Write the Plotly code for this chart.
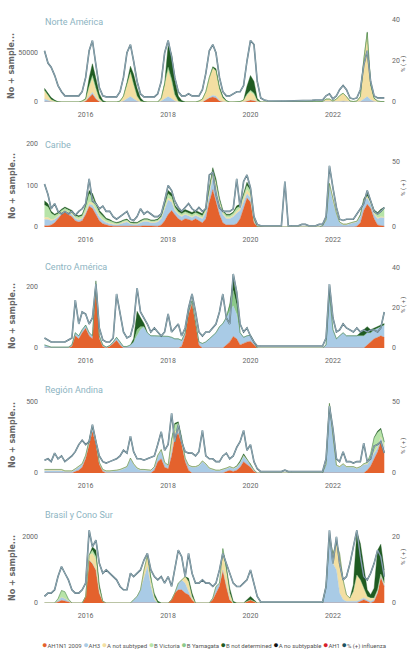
import pandas as pd
import plotly.graph_objects as go
from plotly.subplots import make_subplots

# ---------------- DATA (monthly, Jan 2015 .. Apr 2023) ----------------
months = pd.date_range("2015-01-01", periods=100, freq="MS")

regions = ["Norte América", "Caribe", "Centro América", "Región Andina", "Brasil y Cono Sur"]
year_ticks = ["2016-01-01", "2018-01-01", "2020-01-01", "2022-01-01"]
year_labels = ["2016", "2018", "2020", "2022"]
left_ticks = [[0, 50000], [0, 100, 200], [0, 200], [0, 500], [0, 2000]]
right_ticks = [[0, 20, 40], [0, 50], [0, 20, 40], [0, 50], [0, 20]]

subtype_names = ["AH1N1 2009", "AH3", "A not subtyped", "B Victoria", "B Yamagata",
                 "B not determined", "A no subtypable", "AH1", "% (+) influenza"]

# Norte América
na_pct = [25,19,17,13,8,5,3,3,3,3,3,5,
          12,25,30,18,7,3,2.5,2.5,2.5,2.5,5,12,
          24,28,20,10,4,2.5,2.5,2.5,2.5,4,10,24,
          30,22,12,5,3,3,4,3,3,3,6,14,
          25,28,24,12,5,3,3,4,5,5,8,20,
          30,28,10,2,1,0.6,0.5,0.5,0.5,0.5,0.5,0.5,
          0.5,0.5,0.5,0.5,0.5,0.6,0.8,1,1,1,3,4,
          1.5,3,6,8,6,2,1.5,2,6,18,25,10,
          3,2,2,2]
na_ah1n1 = [0,0,0,0,0,0,0,0,0,0,0,0,
            1000,5000,8000,3000,500,0,0,0,0,0,0,0,
            0,500,300,0,0,0,0,0,0,0,0,0,
            500,500,0,0,0,0,0,0,0,0,0,2000,
            4000,5000,4000,1000,300,0,0,0,0,0,0,1000,
            2000,1500,200,0,0,0,0,0,0,0,0,0,
            0,0,0,0,0,0,0,0,0,0,0,0,
            0,0,0,0,0,0,0,0,0,0,500,200,
            0,0,0,0]
na_ah3 = [3000,1500,500,0,0,0,0,0,0,0,0,0,
          0,500,2000,1000,0,0,0,0,0,0,0,1000,
          3000,5000,3000,1000,0,0,0,0,0,0,1000,3000,
          5000,3000,1000,0,0,0,0,0,0,0,0,500,
          1000,2000,2000,500,0,0,0,0,0,0,0,0,
          0,0,0,0,0,0,0,0,0,0,0,0,
          0,0,0,0,0,0,0,0,0,0,0,0,
          0,0,500,1000,500,0,0,0,500,3000,5000,2000,
          500,0,0,0]
na_anot = [9000,5000,2000,1000,0,0,0,0,0,0,0,1000,
           2000,10000,14000,8000,2000,0,0,0,0,0,1000,5000,
           15000,25000,15000,5000,1000,0,0,0,0,0,3000,15000,
           28000,18000,6000,1000,0,0,0,0,0,1000,3000,8000,
           20000,28000,26000,12000,4000,1000,0,0,0,500,2000,6000,
           8000,6000,1000,0,0,0,0,0,0,0,0,0,
           0,0,0,0,0,0,0,0,0,500,3000,3000,
           1000,3000,6000,8000,5000,1000,500,1000,5000,40000,65000,15000,
           3000,1000,500,500]
na_bvic = [0,0,0,0,0,0,0,0,0,0,0,0,
           0,1000,3000,2000,1000,0,0,0,0,0,0,0,
           0,0,0,0,0,0,0,0,0,0,0,0,
           0,0,0,0,0,0,0,0,0,0,0,0,
           0,0,0,0,0,0,0,0,0,0,0,1000,
           2000,1500,300,0,0,0,0,0,0,0,0,0,
           0,0,0,0,0,0,0,0,0,0,0,0,
           0,0,0,0,0,0,0,0,0,0,0,0,
           0,0,0,0]
na_byam = [0,0,0,0,0,0,0,0,0,0,0,0,
           0,0,0,0,0,0,0,0,0,0,0,0,
           0,0,0,0,0,0,0,0,0,0,0,0,
           2000,2000,1000,0,0,0,0,0,0,0,0,0,
           0,0,0,0,0,0,0,0,0,0,0,0,
           0,0,0,0,0,0,0,0,0,0,0,0,
           0,0,0,0,0,0,0,0,0,0,0,0,
           0,0,0,0,0,0,0,0,0,0,0,0,
           0,0,0,0]
na_bnd = [2000,3000,2000,1000,300,0,0,0,0,0,0,0,
          500,8000,12000,10000,5000,1500,0,0,0,0,0,0,
          2000,6000,10000,8000,3000,500,0,0,0,0,0,500,
          22000,25000,14000,5000,1500,0,0,0,0,0,0,0,
          0,1000,2000,2000,1500,500,0,0,0,0,0,8000,
          15000,12000,2000,0,0,0,0,0,0,0,0,0,
          0,0,0,0,0,0,0,0,0,0,0,0,
          0,0,0,0,0,0,0,0,0,0,1000,1000,
          500,0,0,0]

# Caribe
cb_pct = [33,25,14,18,12,10,12,10,12,9,12,14,
          18,37,20,18,14,16,12,12,8,6,8,10,
          12,6,5,8,14,10,12,10,8,8,10,20,
          32,28,20,15,12,15,18,14,12,15,12,14,
          40,42,25,15,12,12,12,14,37,15,35,40,
          30,8,2,1,1,1,1,1,1,1,35,1,
          1,1,1,2,2,1,1,1,2,2,8,47,
          30,15,6,5,6,6,6,10,14,18,28,20,
          12,10,12,15]
cb_ah1n1 = [3,3,5,10,20,30,35,30,25,15,12,15,
            30,50,45,30,15,8,5,3,2,2,2,2,
            2,2,1,1,2,3,3,2,2,2,5,15,
            30,40,30,20,15,20,18,15,20,15,10,20,
            60,90,60,30,10,5,5,5,8,20,45,70,
            60,10,1,0,0,0,0,0,0,0,0,0,
            0,0,0,0,0,0,0,0,0,0,0,0,
            0,0,0,0,0,0,0,2,10,40,55,45,
            20,5,3,2]
cb_ah3 = [15,15,10,8,5,3,3,3,5,5,5,5,
          5,5,8,10,10,8,6,5,5,3,5,8,
          10,5,5,5,8,10,10,8,8,10,15,30,
          35,20,10,10,10,10,8,8,8,10,10,15,
          15,30,35,25,20,15,15,20,25,20,15,10,
          10,5,0,0,0,0,0,0,0,0,0,0,
          0,0,0,0,0,0,0,0,0,3,15,100,
          60,30,10,5,5,8,10,10,15,20,15,10,
          10,15,20,20]
cb_anot = [5,5,3,2,2,2,2,2,2,2,2,2,
           3,5,5,3,2,2,2,2,1,1,1,2,
           2,1,1,1,1,2,2,2,2,2,2,3,
           5,5,3,2,2,2,2,2,2,2,2,3,
           10,10,8,5,3,3,3,3,5,5,8,10,
           8,2,0,0,0,0,0,0,0,0,0,0,
           0,0,0,0,0,0,0,0,0,0,2,5,
           5,3,2,2,2,2,2,2,3,5,5,5,
           3,2,2,2]
cb_bvic = [30,25,15,8,5,5,5,5,5,5,5,5,
           10,20,15,10,8,8,5,5,3,3,3,3,
           3,2,2,2,3,3,3,3,3,3,3,5,
           10,8,5,5,5,5,5,5,5,5,5,5,
           5,5,5,5,5,5,5,5,8,5,8,10,
           10,2,0,0,0,0,0,0,0,0,0,0,
           0,0,0,0,0,0,0,0,0,0,0,0,
           0,0,0,0,0,0,0,0,0,0,0,0,
           5,10,15,20]
cb_bnd = [10,8,5,3,3,3,3,3,3,3,3,3,
          5,8,8,5,5,5,3,3,2,2,2,2,
          2,2,2,2,2,2,2,2,2,2,3,5,
          8,8,5,5,5,5,5,5,5,5,5,5,
          5,8,8,5,3,3,3,3,5,5,5,8,
          5,1,0,0,0,0,0,0,0,0,0,0,
          0,0,0,0,0,0,0,0,0,0,0,0,
          0,0,0,0,0,0,0,0,2,3,5,3,
          3,3,3,3]

# Centro América
ca_pct = [5,4,3,3,3,3,3,4,5,24,12,18,
          17,12,15,32,10,4,3,3,5,27,18,8,
          5,6,12,30,18,15,12,8,10,8,6,8,
          17,8,10,12,6,10,20,27,18,8,6,8,
          8,10,12,18,27,15,12,37,28,12,8,10,
          6,3,1,1,1,1,1,1,1,1,1,1,
          1,1,1,1,1,1,1,1,1,1,5,32,
          15,8,9,12,10,9,8,10,8,9,8,9,
          9,8,10,18]
ca_ah1n1 = [0,0,0,0,0,0,0,0,5,40,30,50,
            65,40,30,200,30,5,0,5,15,25,10,0,
            0,0,0,0,0,0,0,0,0,0,0,0,
            0,0,0,0,5,40,110,145,80,10,0,0,
            0,0,0,0,0,10,20,38,30,10,15,20,
            22,10,0,0,0,0,0,0,0,0,0,0,
            0,0,0,0,0,0,0,0,0,0,0,0,
            0,0,0,0,0,0,0,0,0,0,10,20,
            30,35,40,35]
ca_ah3 = [10,5,3,3,3,3,3,3,5,10,10,10,
          10,10,10,10,10,5,3,3,5,10,10,5,
          5,10,20,40,60,70,50,40,40,40,38,38,
          38,35,30,30,20,10,10,10,10,10,15,20,
          30,40,50,70,80,90,100,100,80,40,20,20,
          20,10,0,0,0,0,0,0,0,0,0,0,
          0,0,0,0,0,0,0,0,0,0,10,178,
          60,30,40,50,40,40,40,40,40,40,40,30,
          30,30,30,40]
ca_byam = [0,0,0,0,0,0,0,0,0,0,0,0,
           0,0,0,0,0,0,0,0,0,0,0,0,
           0,0,0,20,10,0,0,0,0,0,0,0,
           0,0,0,0,0,0,0,0,0,0,0,0,
           0,0,0,0,0,0,20,50,30,0,0,0,
           0,0,0,0,0,0,0,0,0,0,0,0,
           0,0,0,0,0,0,0,0,0,0,0,0,
           0,0,0,0,0,0,0,0,0,0,0,0,
           0,0,0,0]
ca_bnd = [0,0,0,0,0,0,0,0,0,0,0,0,
          0,0,0,10,0,0,0,0,0,0,0,0,
          0,0,10,60,30,10,0,0,0,0,0,0,
          0,0,0,0,0,0,0,0,0,0,0,0,
          0,0,0,0,0,0,0,40,20,0,0,0,
          0,0,0,0,0,0,0,0,0,0,0,0,
          0,0,0,0,0,0,0,0,0,0,0,0,
          0,0,0,0,0,0,0,0,10,20,20,10,
          5,5,5,5]

# Región Andina
an_pct = [9,10,8,14,10,12,8,10,12,15,20,23,
          20,22,34,22,12,8,7,8,9,10,12,16,
          14,26,15,10,10,9,10,11,12,20,29,16,
          20,42,22,34,22,15,14,14,12,15,30,12,
          10,10,8,8,12,14,10,12,18,22,30,16,
          20,8,3,1,1,1,1,1,1,1,2,1,
          1,1,1,1,1,1,1,1,1,1,10,47,
          31,10,8,15,8,8,7,8,8,21,8,10,
          19,20,22,14]
an_ah1n1 = [0,0,0,0,0,0,0,0,0,10,20,40,
            100,200,290,200,60,10,0,0,0,0,0,0,
            0,0,0,0,0,0,0,0,20,80,100,40,
            30,120,250,280,200,80,20,0,0,0,0,0,
            0,0,0,0,0,10,20,10,20,40,80,60,
            40,10,0,0,0,0,0,0,0,0,0,0,
            0,0,0,0,0,0,0,0,0,0,0,0,
            0,0,0,0,0,0,0,0,0,0,20,50,
            100,150,220,150]
an_ah3 = [15,15,15,20,15,15,10,10,10,15,20,20,
          20,20,20,15,10,10,10,10,10,15,20,30,
          40,100,60,30,20,20,15,15,20,40,60,30,
          20,30,20,20,20,20,30,40,40,50,80,60,
          30,20,15,15,20,20,20,20,20,30,40,30,
          20,10,0,0,0,0,0,0,0,0,0,0,
          0,0,0,0,0,0,0,0,0,0,60,480,
          250,50,40,60,40,40,40,30,40,60,40,50,
          40,30,30,30]
an_anot = [10,10,10,10,10,10,5,5,5,5,5,5,
           5,10,10,5,5,5,5,5,5,5,5,5,
           5,5,5,5,5,5,5,5,5,5,5,5,
           5,60,20,10,5,5,5,5,5,5,5,5,
           5,5,5,5,5,5,5,5,5,5,5,5,
           5,2,0,0,0,0,0,0,0,0,0,0,
           0,0,0,0,0,0,0,0,0,0,2,10,
           10,5,5,5,5,5,5,5,5,5,5,5,
           5,5,5,5]
an_bvic = [0,0,0,0,0,0,0,0,0,0,0,0,
           0,0,0,0,0,0,0,0,0,0,0,0,
           0,0,0,0,0,0,0,0,0,0,0,0,
           0,20,50,40,20,0,0,0,0,0,0,0,
           0,0,0,0,0,0,0,0,0,0,0,0,
           0,0,0,0,0,0,0,0,0,0,0,0,
           0,0,0,0,0,0,0,0,0,0,0,0,
           0,0,0,0,0,0,0,0,0,0,10,30,
           100,100,50,30]
an_bnd = [0,0,0,0,0,0,0,0,0,0,0,0,
          0,0,10,5,0,0,0,0,0,0,0,0,
          0,0,0,0,0,0,0,0,0,0,0,0,
          0,10,10,10,5,0,0,0,0,0,0,0,
          0,0,0,0,0,0,0,0,5,10,10,5,
          0,0,0,0,0,0,0,0,0,0,0,0,
          0,0,0,0,0,0,0,0,0,0,0,0,
          0,0,0,0,0,0,0,0,0,0,0,0,
          5,10,10,5]

# Brasil y Cono Sur
bs_pct = [2,3,3,4,8,11,9,7,4,3,3,4,
          6,22,17,19,12,9,10,9,8,7,5,4,
          4,9,8,9,10,13,15,10,8,7,8,6,
          8,5,10,16,14,8,15,9,6,6,7,6,
          6,5,6,10,15,12,9,6,5,5,6,7,
          10,6,2,0.3,0.3,0.3,0.3,0.3,0.3,0.3,0.3,0.3,
          0.3,0.3,0.3,0.3,0.3,0.3,0.3,0.3,0.3,0.3,5,22,
          12,20,12,7,8,12,17,22,14,8,7,9,
          12,16,14,8]
bs_ah1n1 = [0,0,0,0,30,80,60,30,0,0,0,0,
            200,1300,1200,1000,300,50,0,0,0,0,0,0,
            0,0,0,0,0,0,0,0,0,0,0,0,
            0,100,300,400,400,300,250,100,0,0,0,0,
            0,100,300,500,1000,500,100,0,0,0,0,50,
            100,50,0,0,0,0,0,0,0,0,0,0,
            0,0,0,0,0,0,0,0,0,0,0,0,
            0,0,0,0,0,0,0,0,50,100,50,0,
            50,300,780,500]
bs_ah3 = [0,0,0,0,50,100,80,40,0,0,0,0,
          0,0,0,0,0,0,0,0,0,0,0,0,
          0,0,100,200,400,800,1100,500,100,0,0,0,
          0,0,0,200,300,300,100,0,0,0,0,0,
          0,50,200,100,0,0,0,0,0,0,0,0,
          0,0,0,0,0,0,0,0,0,0,0,0,
          0,0,0,0,0,0,0,0,0,0,500,2000,
          1200,1000,300,100,50,50,50,50,50,50,50,50,
          50,50,50,50]
bs_anot = [0,0,0,0,0,0,0,0,0,0,0,0,
           0,150,300,300,100,0,0,0,0,0,0,0,
           0,0,0,0,0,200,350,150,50,0,0,0,
           0,0,0,0,0,200,300,100,0,0,0,0,
           0,0,0,0,500,400,200,0,0,0,0,0,
           0,0,0,0,0,0,0,0,0,0,0,0,
           0,0,0,0,0,0,0,0,0,0,0,0,
           300,800,1200,600,200,100,300,800,600,300,100,100,
           50,50,50,50]
bs_bvic = [0,0,0,0,50,200,200,50,0,0,0,0,
           0,0,100,100,50,0,0,0,0,0,0,0,
           0,0,0,0,0,0,0,100,50,0,0,0,
           0,0,0,0,0,0,0,0,0,0,0,0,
           0,0,0,0,150,100,0,0,0,0,0,0,
           0,0,0,0,0,0,0,0,0,0,0,0,
           0,0,0,0,0,0,0,0,0,0,0,0,
           0,0,0,0,0,0,0,0,0,0,0,0,
           0,0,0,0]
bs_bnd = [0,0,0,0,0,0,0,0,0,0,0,0,
          0,0,100,200,100,0,0,0,0,0,0,0,
          0,0,0,0,0,0,0,0,80,60,0,0,
          0,0,0,0,0,0,100,100,0,0,0,0,
          0,0,0,0,0,100,150,50,0,0,0,50,
          100,50,0,0,0,0,0,0,0,0,0,0,
          0,0,0,0,0,0,0,0,0,0,0,0,
          0,0,0,0,0,0,200,1300,1100,600,200,100,
          300,1200,900,400]

# ---------------- STYLE ----------------
colors = {"AH1N1 2009": "#e4622d", "AH3": "#a9cbe6", "A not subtyped": "#f3dfa2",
          "B Victoria": "#b7e4a8", "B Yamagata": "#8cc98a", "B not determined": "#1f5b22",
          "A no subtypable": "#111111", "AH1": "#d81e2a", "% (+) influenza": "#1d5361"}

panels = [
    (na_pct, {"AH1N1 2009": na_ah1n1, "AH3": na_ah3, "A not subtyped": na_anot,
              "B Victoria": na_bvic, "B Yamagata": na_byam, "B not determined": na_bnd}),
    (cb_pct, {"AH1N1 2009": cb_ah1n1, "AH3": cb_ah3, "A not subtyped": cb_anot,
              "B Victoria": cb_bvic, "B not determined": cb_bnd}),
    (ca_pct, {"AH1N1 2009": ca_ah1n1, "AH3": ca_ah3, "B Yamagata": ca_byam,
              "B not determined": ca_bnd}),
    (an_pct, {"AH1N1 2009": an_ah1n1, "AH3": an_ah3, "A not subtyped": an_anot,
              "B Victoria": an_bvic, "B not determined": an_bnd}),
    (bs_pct, {"AH1N1 2009": bs_ah1n1, "AH3": bs_ah3, "A not subtyped": bs_anot,
              "B Victoria": bs_bvic, "B not determined": bs_bnd}),
]
for p, subs in panels:
    assert len(p) == 100, len(p)
    for k, v in subs.items():
        assert len(v) == 100, (k, len(v))

W, H = 409, 649
MT, MB = 10, 40
PH = H - MT - MB


def py(p):
    return (H - MB - p) / PH


tops = [20, 144, 268, 395, 522]
bottoms = [102, 227, 348, 473, 603]
left_max = [83700, 200, 262, 549, 2455]
right_max = [40, 63.8, 40, 54.9, 24.5]
title_y = [22, 145, 267, 390, 515]
ytitle_y = [66, 186, 316, 435, 568]
rtitle_y = [64, 188, 305, 446, 557]

FONT = "Roboto, Arial, sans-serif"
TICKFONT = dict(size=7, color="#666", family=FONT)

fig = make_subplots(rows=5, cols=1, specs=[[{"secondary_y": True}]] * 5)

for i, (pct, subs) in enumerate(panels):
    r = i + 1
    for name, vals in subs.items():
        fig.add_trace(go.Scatter(x=months, y=vals, mode="lines", stackgroup=f"s{r}",
                                 line=dict(width=0.4, color=colors[name]),
                                 fillcolor=colors[name], name=name, showlegend=False,
                                 hoverinfo="skip"),
                      row=r, col=1, secondary_y=False)
    fig.add_trace(go.Scatter(x=months, y=pct, mode="lines",
                             line=dict(width=1.6, color="#4f6c77"),
                             showlegend=False, hoverinfo="skip"),
                  row=r, col=1, secondary_y=True)
    fig.add_trace(go.Scatter(x=months, y=pct, mode="lines",
                             line=dict(width=0.6, color="#b8d0da"),
                             showlegend=False, hoverinfo="skip"),
                  row=r, col=1, secondary_y=True)

    dom = [py(bottoms[i]), py(tops[i])]
    fig.update_yaxes(domain=dom, automargin=False, row=r, col=1)
    fig.update_yaxes(range=[0, left_max[i]], tickvals=left_ticks[i],
                     ticktext=[str(v) for v in left_ticks[i]],
                     showgrid=False, zeroline=False, showline=False,
                     tickfont=TICKFONT, ticklabelstandoff=3,
                     row=r, col=1, secondary_y=False)
    fig.update_yaxes(range=[0, right_max[i]], tickvals=right_ticks[i],
                     showgrid=False, zeroline=False, showline=False,
                     tickfont=TICKFONT, ticklabelstandoff=3,
                     row=r, col=1, secondary_y=True)
    fig.update_xaxes(domain=[42 / W, 388 / W], range=["2014-12-10", "2023-05-04"],
                     tickvals=year_ticks, ticktext=year_labels, automargin=False,
                     showgrid=False, zeroline=False, showline=False,
                     tickfont=TICKFONT, ticklabelstandoff=7,
                     row=r, col=1)

    fig.add_annotation(text=regions[i], xref="paper", yref="paper",
                       x=43 / W, y=py(title_y[i]), xanchor="left", yanchor="middle",
                       showarrow=False, font=dict(size=9, color="#8db4c2", family=FONT))
    fig.add_annotation(text="<b>No + sample...</b>", xref="paper", yref="paper",
                       x=12 / W, y=py(ytitle_y[i]), xanchor="center", yanchor="middle",
                       textangle=-90, showarrow=False,
                       font=dict(size=8, color="#666", family="DejaVu Sans"))
    fig.add_annotation(text="% ( + )", xref="paper", yref="paper",
                       x=403 / W, y=py(rtitle_y[i]), xanchor="center", yanchor="middle",
                       textangle=-90, showarrow=False,
                       font=dict(size=6, color="#555", family=FONT))

legend_txt = " ".join(
    f'<span style="color:{colors[n]};font-size:9px">●</span>{n}' for n in subtype_names)
fig.add_annotation(text=legend_txt, xref="paper", yref="paper", x=214 / W, y=py(645),
                   xanchor="center", yanchor="middle", showarrow=False,
                   font=dict(size=6, color="#555", family=FONT))

fig.update_layout(width=W, height=H, margin=dict(l=0, r=0, t=MT, b=MB, autoexpand=False),
                  paper_bgcolor="white", plot_bgcolor="white", showlegend=False)

fig.write_html("out.html", config={"displayModeBar": False},
               post_script="document.body.style.margin='0';")
